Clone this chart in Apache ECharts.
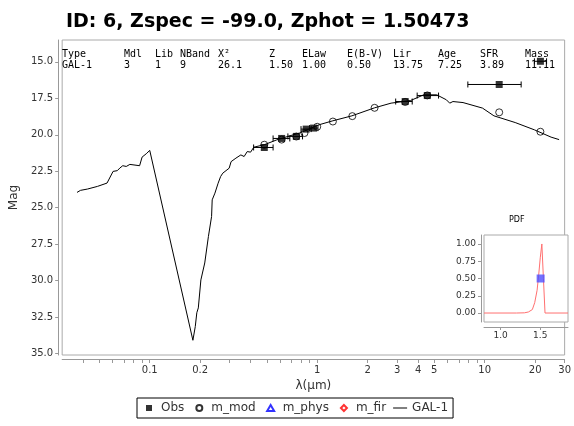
<!DOCTYPE html>
<html><head><meta charset="utf-8">
<script src="https://cdn.jsdelivr.net/npm/echarts@6/dist/echarts.min.js"></script>
<style>html,body{margin:0;padding:0;background:#fff}#c{width:574px;height:426px}</style>
</head><body><div id="c"></div>
<script>
// ---- data ----
const specLambda = [0.0368,0.0386,0.0425,0.0487,0.0556,0.057,0.0604,0.064,0.0663,0.069,0.0724,0.0761,0.087,0.090,0.0953,0.100,
  0.181,0.187,0.191,0.195,0.202,0.213,0.224,0.234,0.236,0.245,0.256,0.265,0.273,0.279,0.298,0.306,0.327,0.350,0.366,0.382,0.400,0.418,
  0.483,0.573,0.686,0.785,0.898,1.027,1.24,1.61,2.20,2.76,3.61,4.32,5.17,5.90,6.18,6.46,7.42,9.70,11.35,15.2,19.8,24.9,27.8];
const specMag = [23.95,23.81,23.72,23.54,23.31,23.20,22.51,22.46,22.28,22.12,22.17,22.03,22.12,21.53,21.30,21.07,
  34.09,33.15,32.20,31.87,29.95,28.79,26.98,25.60,24.46,24.00,23.32,22.86,22.63,22.52,22.29,21.84,21.60,21.38,21.49,21.15,21.19,20.85,
  20.68,20.35,20.07,19.88,19.59,19.31,19.04,18.70,18.15,17.83,17.65,17.26,17.26,17.60,17.83,17.72,17.79,18.17,18.70,19.16,19.66,20.16,20.33];
const obsLambda = [0.483,0.613,0.750,0.859,0.951,3.35,4.54,12.2,21.5];
const obsMag = [20.87,20.25,20.11,19.61,19.54,17.72,17.31,16.55,14.96];
const obsLo = [0.417,0.545,0.668,0.80,0.90,2.94,3.95,7.93,19.8];
const obsHi = [0.545,0.686,0.817,0.92,1.01,3.69,5.30,16.5,23.4];
const modLambda = [0.483,0.613,0.750,0.839,1.0,1.24,1.62,2.2,3.35,4.54,12.2,21.5];
const modMag = [20.68,20.33,20.12,19.88,19.45,19.09,18.72,18.15,17.75,17.30,18.46,19.79];
const pdfZ = [0.79,1.20,1.30,1.35,1.40,1.43,1.46,1.48,1.50,1.52,1.54,1.56,1.85];
const pdfP = [0,0,0.003,0.015,0.05,0.15,0.33,0.55,0.8,1.0,0.5,0.0,0];
const zphot = 1.50473;
const xTickLabels = [0.1,0.2,1,2,3,4,5,10,20,30];
const xMinorTicks = [0.04,0.05,0.06,0.07,0.08,0.09,0.1,0.2,0.3,0.4,0.5,0.6,0.7,0.8,0.9,1,2,3,4,5,6,7,8,9,10,20,30];
const yTicks = [15,17.5,20,22.5,25,27.5,30,32.5,35];
const pdfYTicks = [0,0.25,0.5,0.75,1];
const pdfXTicks = [1.0,1.5];
const tableHead = ['Type','Mdl','Lib','NBand','X\u00b2','Z','ELaw','E(B-V)','Lir','Age','SFR','Mass'];
const tableVals = ['GAL-1','3','1','9','26.1','1.50','1.00','0.50','13.75','7.25','3.89','11.11'];
const tableColX = [62,124,155,180,218,269,302,347,393,438,480,525];

const lg = v => Math.log10(v);
const F = 'DejaVu Sans';
const chart = echarts.init(document.getElementById('c'), null, {renderer:'canvas'});

const graphics = [];
tableHead.forEach((t,i)=>{
  graphics.push({type:'text', left:tableColX[i], top:49, z:100, style:{text:t, font:'10px "DejaVu Sans Mono"', fill:'#000'}});
  graphics.push({type:'text', left:tableColX[i], top:60, z:100, style:{text:tableVals[i], font:'10px "DejaVu Sans Mono"', fill:'#000'}});
});
graphics.push({type:'text', left:509, top:216, z:100, style:{text:'PDF', font:'8px "DejaVu Sans"', fill:'#000'}});

const axisGray = '#999';
const icons = {
  Obs:'path://M0,0M14,8M4,1h6v6h-6z',
  m_mod:'path://M0,0M14,8M4,4a3,3 0 1,0 6,0a3,3 0 1,0 -6,0z',
  m_phys:'path://M0,0M14,8M7,1L10.5,7L3.5,7z',
  m_fir:'path://M0,0M14,8M7,1L10,4L7,7L4,4z',
  line:'path://M0,0M14,8M0,3.5h14v1h-14z'
};
chart.setOption({
  animation:false,
  title:{text:'ID: 6, Zspec = -99.0, Zphot = 1.50473', left:61, top:8,
    textStyle:{fontFamily:F, fontSize:19, fontWeight:'bold', color:'#000'}},
  graphic: graphics,
  legend:{left:137, top:398, padding:[4,5,4,5], borderColor:'#000', borderWidth:1, itemGap:7,
    itemWidth:14, itemHeight:8, textStyle:{fontFamily:F, fontSize:12, color:'#333'},
    data:[{name:'Obs',icon:icons.Obs},{name:'m_mod',icon:icons.m_mod},{name:'m_phys',icon:icons.m_phys},
          {name:'m_fir',icon:icons.m_fir},{name:'GAL-1',icon:icons.line}]},
  grid:[
    {left:59, right:4, top:40, bottom:71, show:true, borderColor:'#aaa', borderWidth:1, backgroundColor:'#fff'},
    {left:484, top:235, width:84, height:87, show:true, borderColor:'#aaa', borderWidth:1, backgroundColor:'#fff', z:10}
  ],
  xAxis:[
    {type:'value', gridIndex:0, min:lg(0.03), max:lg(30), offset:4,
     name:'\u03bb(\u00b5m)', nameLocation:'middle', nameGap:19, nameTextStyle:{fontFamily:F, fontSize:12, color:'#333'},
     axisLine:{onZero:false, lineStyle:{color:axisGray}}, splitLine:{show:false},
     axisTick:{length:4, customValues:xMinorTicks.map(lg), lineStyle:{color:axisGray}},
     axisLabel:{customValues:xTickLabels.map(lg), fontFamily:F, fontSize:10, color:'#333', margin:6,
       formatter:v=>String(parseFloat(Math.pow(10,v).toPrecision(2)))}},
    {type:'value', gridIndex:1, min:0.79, max:1.85, offset:5, z:10,
     axisLine:{onZero:false, lineStyle:{color:axisGray}}, splitLine:{show:false},
     axisTick:{length:3, customValues:pdfXTicks, lineStyle:{color:axisGray}},
     axisLabel:{customValues:pdfXTicks, fontFamily:F, fontSize:9, color:'#333', margin:4, formatter:v=>v.toFixed(1)}}
  ],
  yAxis:[
    {type:'value', gridIndex:0, inverse:true, min:13.5, max:35.1, offset:4,
     name:'Mag', nameLocation:'middle', nameGap:38, nameTextStyle:{fontFamily:F, fontSize:12, color:'#333'},
     axisLine:{show:true, onZero:false, lineStyle:{color:axisGray}}, splitLine:{show:false},
     axisTick:{show:true, length:3, customValues:yTicks, lineStyle:{color:axisGray}},
     axisLabel:{customValues:yTicks, fontFamily:F, fontSize:10, color:'#333', margin:5, formatter:v=>v.toFixed(1)}},
    {type:'value', gridIndex:1, min:-0.13, max:1.13, offset:3, z:10,
     axisLine:{show:true, onZero:false, lineStyle:{color:axisGray}}, splitLine:{show:false},
     axisTick:{show:true, length:3, customValues:pdfYTicks, lineStyle:{color:axisGray}},
     axisLabel:{customValues:pdfYTicks, fontFamily:F, fontSize:9, color:'#333', margin:5, formatter:v=>v.toFixed(2)}}
  ],
  series:[
    {name:'GAL-1', type:'line', xAxisIndex:0, yAxisIndex:0, symbol:'none', z:2,
     lineStyle:{color:'#000', width:1}, itemStyle:{color:'#000'},
     data:specLambda.map((l,i)=>[lg(l), specMag[i]])},
    {name:'err', type:'custom', xAxisIndex:0, yAxisIndex:0, z:3,
     data:obsLambda.map((l,i)=>[lg(obsLo[i]), lg(obsHi[i]), obsMag[i]]),
     renderItem:(params, api)=>{
       const a = api.coord([api.value(0), api.value(2)]);
       const b = api.coord([api.value(1), api.value(2)]);
       const st = {stroke:'#000', lineWidth:1};
       return {type:'group', children:[
         {type:'line', shape:{x1:a[0], y1:a[1], x2:b[0], y2:b[1]}, style:st},
         {type:'line', shape:{x1:a[0], y1:a[1]-3, x2:a[0], y2:a[1]+3}, style:st},
         {type:'line', shape:{x1:b[0], y1:b[1]-3, x2:b[0], y2:b[1]+3}, style:st}
       ]};
     }},
    {name:'m_mod', type:'scatter', xAxisIndex:0, yAxisIndex:0, symbol:'circle', symbolSize:7, z:4,
     itemStyle:{color:'rgba(255,255,255,0)', borderColor:'#000', borderWidth:1},
     data:modLambda.map((l,i)=>[lg(l), modMag[i]])},
    {name:'Obs', type:'scatter', xAxisIndex:0, yAxisIndex:0, symbol:'rect', symbolSize:7, z:5,
     itemStyle:{color:'#000'},
     data:obsLambda.map((l,i)=>[lg(l), obsMag[i]])},
    {name:'m_phys', type:'scatter', xAxisIndex:0, yAxisIndex:0, symbol:'triangle', symbolSize:7,
     itemStyle:{color:'rgba(255,255,255,0)', borderColor:'#0000ff', borderWidth:1.5}, data:[]},
    {name:'m_fir', type:'scatter', xAxisIndex:0, yAxisIndex:0, symbol:'diamond', symbolSize:7,
     itemStyle:{color:'rgba(255,255,255,0)', borderColor:'#ff0000', borderWidth:1.5}, data:[]},
    {name:'pdf', type:'line', xAxisIndex:1, yAxisIndex:1, symbol:'none', z:11,
     lineStyle:{color:'#ff7070', width:1}, data:pdfZ.map((z,i)=>[z, pdfP[i]])},
    {name:'zp', type:'scatter', xAxisIndex:1, yAxisIndex:1, symbol:'rect', symbolSize:8, z:12,
     itemStyle:{color:'#4f4fff'}, data:[[zphot, 0.5]]}
  ]
});
</script></body></html>
